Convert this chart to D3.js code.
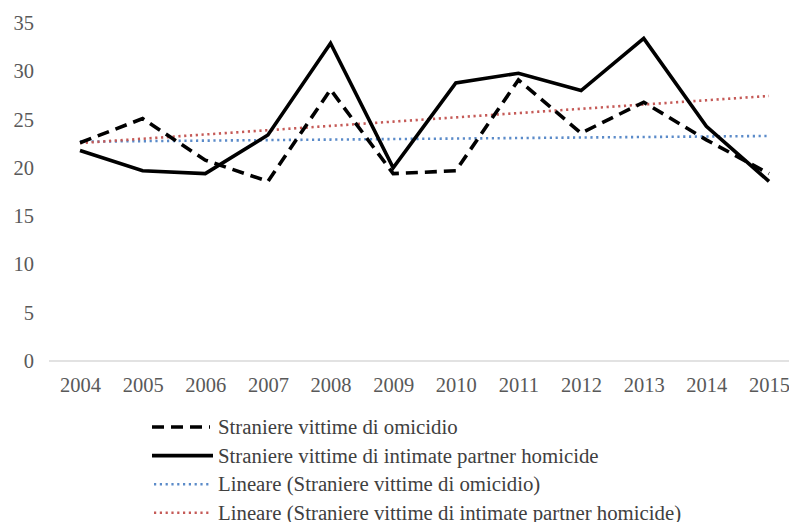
<!DOCTYPE html>
<html>
<head>
<meta charset="utf-8">
<script src="https://cdn.jsdelivr.net/npm/d3@7"></script>
<style>
  html, body { margin: 0; padding: 0; background: #fff; }
  svg { display: block; }
  text { font-family: "Liberation Serif", "Times New Roman", serif; }
</style>
</head>
<body>
<div id="chart"></div>
<script>
const years = ["2004","2005","2006","2007","2008","2009","2010","2011","2012","2013","2014","2015"];
const omicidio = [22.6, 25.1, 20.8, 18.6, 28.1, 19.4, 19.7, 29.1, 23.6, 26.8, 22.9, 19.4];
const intimate = [21.8, 19.7, 19.4, 23.4, 32.9, 20.0, 28.8, 29.8, 28.0, 33.4, 24.3, 18.6];
const yTicks = [0, 5, 10, 15, 20, 25, 30, 35];
const legendLabels = [
  "Straniere vittime di omicidio",
  "Straniere vittime di intimate partner homicide",
  "Lineare (Straniere vittime di omicidio)",
  "Lineare (Straniere vittime di intimate partner homicide)"
];

const W = 789, H = 522;
const svg = d3.select("#chart").append("svg").attr("width", W).attr("height", H);

const x = d3.scalePoint().domain(years).range([80, 769]);
const y = d3.scaleLinear().domain([0, 35]).range([361, 23]);

// linear trend (least squares)
function trend(vals) {
  const n = vals.length;
  const xs = d3.range(n);
  const mx = d3.mean(xs), my = d3.mean(vals);
  const sxy = d3.sum(xs, (xi, i) => (xi - mx) * (vals[i] - my));
  const sxx = d3.sum(xs, xi => (xi - mx) * (xi - mx));
  const b = sxy / sxx, a = my - b * mx;
  return xs.map(xi => a + b * xi);
}

// Y axis labels
const yAxis = d3.axisLeft(y).tickValues(yTicks).tickSize(0).tickPadding(0).tickFormat(d3.format("d"));
const gy = svg.append("g").attr("transform", "translate(34,0)").call(yAxis);
gy.select(".domain").remove();
gy.selectAll("text").attr("font-size", 20.5).attr("fill", "#595959")
  .attr("font-family", "Liberation Serif, Times New Roman, serif");

// X axis
const xAxis = d3.axisBottom(x).tickSize(0).tickPadding(0);
const gx = svg.append("g").attr("transform", "translate(0,361)").call(xAxis);
gx.select(".domain").remove();
gx.selectAll("text").attr("font-size", 20.5).attr("fill", "#595959").attr("dy", "1.52em")
  .attr("font-family", "Liberation Serif, Times New Roman, serif");
svg.append("line").attr("x1", 49).attr("x2", 789).attr("y1", y(0)).attr("y2", y(0))
  .attr("stroke", "#d9d9d9").attr("stroke-width", 1.5);

const line = d3.line().x((d, i) => x(years[i])).y(d => y(d));

const series = [
  { vals: trend(omicidio), color: "#5B8BC9", width: 2.6, dash: "2.2,3.6", cap: "butt" },
  { vals: trend(intimate), color: "#C55A57", width: 2.6, dash: "2.2,3.6", cap: "butt" },
  { vals: omicidio, color: "#000", width: 3.6, dash: "12,7", cap: "butt" },
  { vals: intimate, color: "#000", width: 3.6, dash: null, cap: "butt" }
];
series.forEach(s => {
  svg.append("path").datum(s.vals).attr("d", line)
    .attr("fill", "none").attr("stroke", s.color).attr("stroke-width", s.width)
    .attr("stroke-dasharray", s.dash).attr("stroke-linejoin", "miter").attr("stroke-linecap", s.cap);
});

// Legend
const legendItems = [
  { label: legendLabels[0], color: "#000", width: 3.6, dash: "12,7", x1: 152, x2: 210 },
  { label: legendLabels[1], color: "#000", width: 3.6, dash: null, x1: 152, x2: 213 },
  { label: legendLabels[2], color: "#5B8BC9", width: 2.6, dash: "2.2,3.6", x1: 154, x2: 210 },
  { label: legendLabels[3], color: "#C55A57", width: 2.6, dash: "2.2,3.6", x1: 154, x2: 210 }
];
const lg = svg.append("g");
legendItems.forEach((d, i) => {
  const cy = 427 + i * 28.6;
  lg.append("line").attr("x1", d.x1).attr("x2", d.x2).attr("y1", cy).attr("y2", cy)
    .attr("stroke", d.color).attr("stroke-width", d.width).attr("stroke-dasharray", d.dash);
  lg.append("text").attr("x", 218).attr("y", cy + 7).attr("font-size", 20.8).attr("fill", "#404040")
    .text(d.label);
});
</script>
</body>
</html>
